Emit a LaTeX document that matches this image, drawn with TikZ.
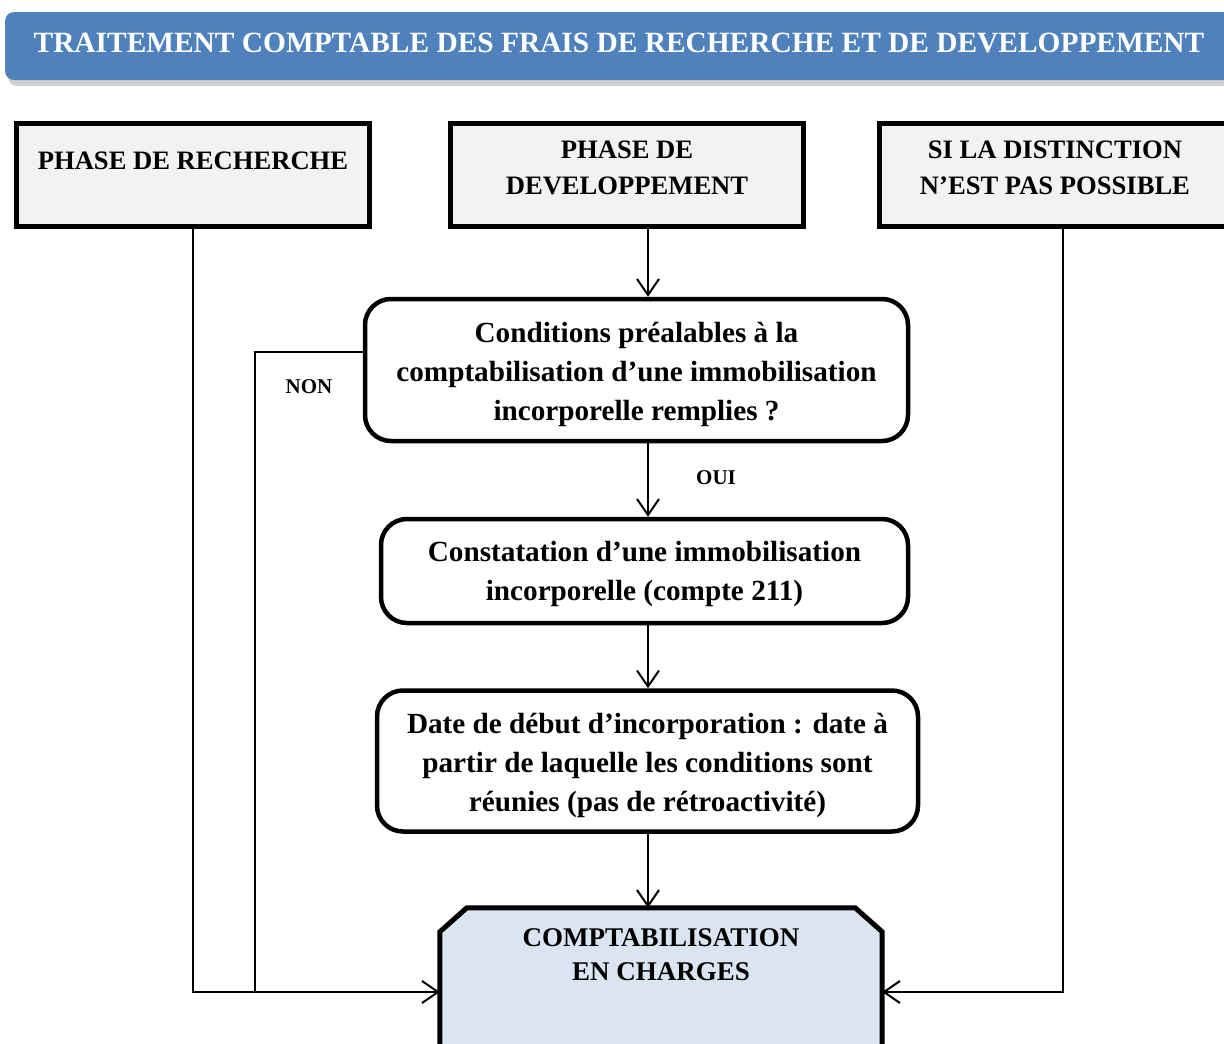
\documentclass[tikz,border=0pt]{standalone}
\usepackage{fontspec}
\setmainfont{Liberation Serif}
\usetikzlibrary{arrows.meta,calc}
\definecolor{hdrblue}{HTML}{4F81BD}
\definecolor{hdrshadow}{HTML}{D0D0D0}
\definecolor{boxgray}{HTML}{F2F2F2}
\definecolor{chargeblue}{HTML}{DBE5F1}
\tikzset{
  phasebox/.style={draw, line width=5pt, fill=boxgray, minimum width=353pt, minimum height=103pt, inner sep=0pt},
  phasetext/.style={font=\fontsize{26.6}{36}\selectfont\bfseries, align=center, inner sep=0pt},
  roundbox/.style={draw, line width=4.5pt, rounded corners=26pt, fill=white, align=center, inner sep=0pt,
    font=\fontsize{29.2}{39}\selectfont\bfseries},
  conn/.style={line width=1.8pt},
  arr/.style={conn, -{Straight Barb[length=16pt,width=22pt,line width=2pt]}},
  small/.style={font=\fontsize{21}{24}\selectfont\bfseries, inner sep=0pt},
}
\begin{document}
\begin{tikzpicture}[x=1pt,y=-1pt]
\useasboundingbox (0,0) rectangle (1224,1044);
\clip (0,0) rectangle (1224,1044);
% header
\fill[hdrshadow, rounded corners=9pt] (8,17) rectangle (1244,86);
\node[fill=hdrblue, rounded corners=9pt, minimum width=1239pt, minimum height=68pt, inner sep=0pt] (title) at (624.5,46) {};
\node[text=white, font=\fontsize{29.4}{32}\selectfont\bfseries, inner sep=0pt] (titletext) at (619,43) {TRAITEMENT COMPTABLE DES FRAIS DE RECHERCHE ET DE DEVELOPPEMENT};
% top boxes
\node[phasebox] (box1) at (193,175) {};
\node[phasebox] (box2) at (627,175) {};
\node[phasebox] (box3) at (1056,175) {};
\node[phasetext] (t1) at (193,161) {PHASE DE RECHERCHE};
\node[phasetext] (t2) at (627,168) {PHASE DE\\DEVELOPPEMENT};
\node[phasetext] (t3) at (1055,168) {SI LA DISTINCTION\\N’EST PAS POSSIBLE};
% flow boxes
\node[roundbox, minimum width=543pt, minimum height=142pt] (c1) at (636.5,370) {};
\node[roundbox, minimum width=527pt, minimum height=104pt] (c2) at (644.5,571) {};
\node[roundbox, minimum width=541pt, minimum height=141pt] (c3) at (647.5,761) {};
\node[roundbox, draw=none, fill=none] (c1t) at (636.5,374) {Conditions préalables à la\\comptabilisation d’une immobilisation\\incorporelle remplies ?};
\node[roundbox, draw=none, fill=none] (c2t) at (644.5,574) {Constatation d’une immobilisation\\incorporelle (compte 211)};
\node[roundbox, draw=none, fill=none] (c3t) at (647.5,765) {Date de début d’incorporation : date à\\partir de laquelle les conditions sont\\réunies (pas de rétroactivité)};
% charges box
\node[minimum width=442pt, minimum height=168pt, inner sep=0pt] (charges) at (661,992) {};
\draw[line width=5pt, fill=chargeblue]
  ([yshift=-24]charges.north west) -- ([xshift=27]charges.north west) -- ([xshift=-27]charges.north east)
  -- ([yshift=-24]charges.north east) -- ([yshift=-40]charges.south east) -- ([yshift=-40]charges.south west) -- cycle;
\node[phasetext, font=\fontsize{27}{34}\selectfont\bfseries] (ctext) at (661,955) {COMPTABILISATION\\EN CHARGES};
% connectors
\coordinate (spine) at (648,0);
\coordinate (nonx) at (255,0);
\coordinate (rightx) at (1063,0);
\draw[arr] (box2.south -| spine) -- (c1.north -| spine);
\draw[arr] (c1.south -| spine) -- (c2.north -| spine);
\draw[arr] (c2.south -| spine) -- (c3.north -| spine);
\draw[arr] (c3.south -| spine) -- (charges.north -| spine);
\draw[arr] (box1.south) |- (charges.west);
\draw[conn] ([yshift=18]c1.west) -| (nonx |- charges.west);
\draw[arr] (box3.south -| rightx) |- (charges.east);
% labels
\node[small] (non) at (309,387) {NON};
\node[small] (oui) at (716,478) {OUI};
\end{tikzpicture}
\end{document}
